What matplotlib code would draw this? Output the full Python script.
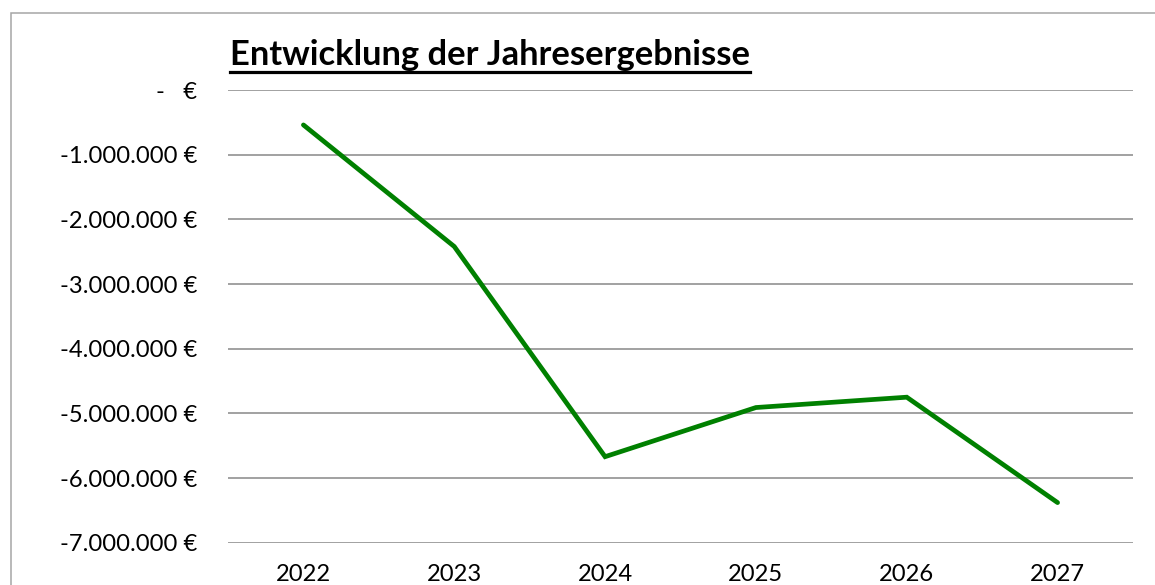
import matplotlib
matplotlib.use("Agg")
import matplotlib.pyplot as plt
from matplotlib.lines import Line2D
from matplotlib.patches import Rectangle
from matplotlib.ticker import FuncFormatter, MultipleLocator

# ---- data ----
years = ["2022", "2023", "2024", "2025", "2026", "2027"]
results = [-540000, -2420000, -5670000, -4910000, -4750000, -6380000]
title = "Entwicklung der Jahresergebnisse"

W, H, DPI = 1155, 585, 100
FONT = "Lato"
plt.rcParams['font.family'] = [FONT, 'DejaVu Sans']

fig = plt.figure(figsize=(W / DPI, H / DPI), dpi=DPI)
fig.patch.set_facecolor("white")

# outer chart border
fig.patches.append(Rectangle((11 / W, -0.2), 1.2, (H - 12.5) / H + 0.2,
                             transform=fig.transFigure, fill=False,
                             edgecolor="#a6a6a6", linewidth=1.1, zorder=0))

left, right, top, bottom = 228, 1133, 90, 542.7
ax = fig.add_axes([left / W, 1 - bottom / H, (right - left) / W, (bottom - top) / H])

x = list(range(len(years)))
ax.plot(x, results, color="#008000", linewidth=3.4, solid_capstyle="round",
        solid_joinstyle="miter", zorder=3)

ax.set_xlim(-0.5, len(years) - 0.5)
ax.set_ylim(-7000000, 0)
ax.yaxis.set_major_locator(MultipleLocator(1000000))
ax.grid(axis="y", color="#878787", linewidth=1.1, zorder=1)
ax.set_axisbelow(True)
for s in ax.spines.values():
    s.set_visible(False)


def eur(v, pos=None):
    if abs(v) < 0.5:
        return "-   €"
    return f"{v:,.0f}".replace(",", ".") + " €"


ax.yaxis.set_major_formatter(FuncFormatter(eur))
ax.set_xticks(x)
ax.set_xticklabels(years)

renderer = fig.canvas.get_renderer()


def fit_size(txt, target_px, weight="normal"):
    t = fig.text(0, 0, txt, fontsize=10, family=[FONT, 'DejaVu Sans'], weight=weight)
    w = t.get_window_extent(renderer).width
    t.remove()
    return 10 * target_px / w


tick_fs = fit_size("-1.000.000 €", 135.3)
ax.tick_params(axis="y", length=0, pad=(left - 197) * 72 / DPI, labelsize=tick_fs,
               labelcolor="black")
ax.tick_params(axis="x", length=0, pad=(567 - bottom - 3) * 72 / DPI, labelsize=tick_fs,
               labelcolor="black")

# title (bold, underlined)
title_fs = fit_size(title, 521.7, weight="bold")
tt = fig.text(230 / W, 1 - 65 / H, title, fontsize=title_fs, weight="bold",
              ha="left", va="baseline", color="black")
bb = tt.get_window_extent(renderer)
fig.add_artist(Line2D([bb.x0 / W, bb.x1 / W], [1 - 71.7 / H, 1 - 71.7 / H],
                      transform=fig.transFigure, color="black", linewidth=2.3))

fig.savefig("out.png", dpi=DPI, facecolor="white")
